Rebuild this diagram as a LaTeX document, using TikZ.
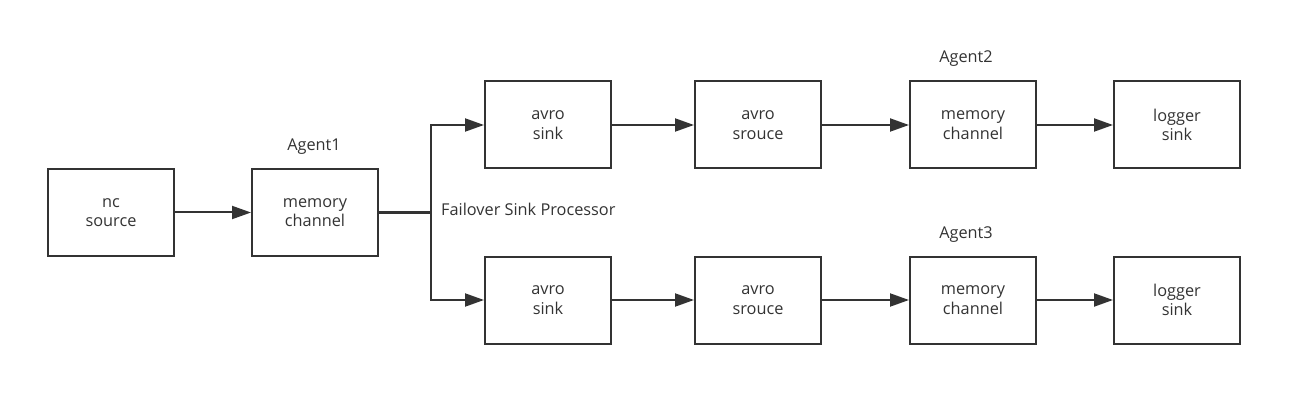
\documentclass[tikz,border=0pt]{standalone}
\usepackage{fontspec}
\setmainfont{Open Sans}
\usetikzlibrary{arrows.meta}
\definecolor{ink}{HTML}{333333}
\begin{document}
\begin{tikzpicture}[x=1pt,y=-1pt,
  box/.style={draw=ink,line width=2pt,minimum width=126pt,minimum height=87pt,inner sep=0pt,align=center,text=ink,font=\fontsize{16.3}{19.5}\selectfont},
  lbl/.style={text=ink,font=\fontsize{16.3}{19.5}\selectfont,inner sep=0pt},
  conn/.style={draw=ink,line width=2pt,-{Triangle[length=19pt,width=13pt]}}]
\useasboundingbox (0,0) rectangle (1293,414);
\node[box] (nc) at (111,212.5) {nc\\source};
\node[box] (m1) at (315,212.5) {memory\\channel};
\node[lbl] (a1) at (314,147) {Agent1};
\node[box] (as1) at (548,125) {avro\\sink};
\node[box] (ar1) at (758,125) {avro\\srouce};
\node[box] (m2) at (973,125) {memory\\channel};
\node[box] (ls1) at (1177,125) {logger\\sink};
\node[lbl] (a2) at (966,59) {Agent2};
\node[box] (as2) at (548,300) {avro\\sink};
\node[box] (ar2) at (758,300) {avro\\srouce};
\node[box] (m3) at (973,300) {memory\\channel};
\node[box] (ls2) at (1177,300) {logger\\sink};
\node[lbl] (a3) at (966,235) {Agent3};
\node[lbl,anchor=west] (fsp) at (441,209) {Failover Sink Processor};
\coordinate (j) at (431,212.5);
\draw[conn] (nc) -- (m1);
\draw[draw=ink,line width=2.6pt] (m1.east) -- (j);
\draw[conn] (j) |- (as1.west);
\draw[conn] (j) |- (as2.west);
\draw[conn] (as1) -- (ar1);
\draw[conn] (ar1) -- (m2);
\draw[conn] (m2) -- (ls1);
\draw[conn] (as2) -- (ar2);
\draw[conn] (ar2) -- (m3);
\draw[conn] (m3) -- (ls2);
\end{tikzpicture}
\end{document}
